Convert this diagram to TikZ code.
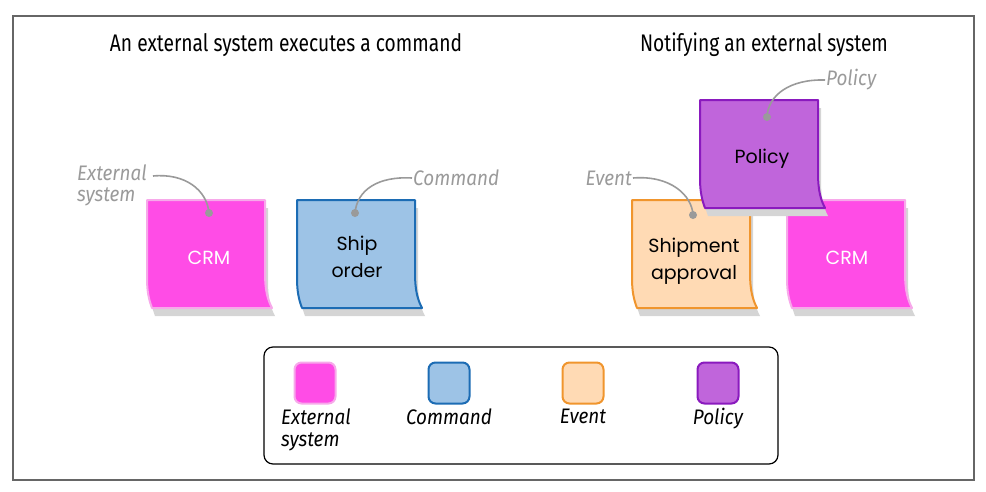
\documentclass[tikz,border=0pt]{standalone}
\usepackage{fontspec}
\setmainfont{Fira Sans}
\newfontfamily\titlefont{Fira Sans}[FakeStretch=0.8]
\newfontfamily\hintfont{Fira Sans}[FakeStretch=0.9]
\newfontfamily\notefont{Poppins}
\usepackage{tikz}
\usetikzlibrary{positioning,calc}
\definecolor{extfill}{HTML}{FF4CE6}
\definecolor{extline}{HTML}{F7A9EA}
\definecolor{cmdfill}{HTML}{9DC3E6}
\definecolor{cmdline}{HTML}{1C6CB4}
\definecolor{evtfill}{HTML}{FFDAB4}
\definecolor{evtline}{HTML}{F0952D}
\definecolor{polfill}{HTML}{C065DB}
\definecolor{polline}{HTML}{8A1ABE}
\definecolor{hintgray}{HTML}{9A9A9A}
\definecolor{shadegray}{HTML}{D5D5D5}
% outline of a sticky note, top left corner at (#1,#2)
\newcommand{\notepath}[2]{(#1,#2) -- (#1+118,#2) -- (#1+118,#2+72)
  .. controls (#1+118,#2+92) and (#1+121,#2+100) .. (#1+125,#2+108)
  -- (#1+5,#2+108) .. controls (#1+2,#2+100) and (#1,#2+92) .. (#1,#2+78) -- cycle}
% sticky note: left, top, fill, border
\newcommand{\stickynote}[4]{%
  \fill[shadegray, shift={(3,8)}] \notepath{#1}{#2};
  \filldraw[fill=#3, draw=#4, line width=2pt, line join=round] \notepath{#1}{#2};}

\begin{document}
\begin{tikzpicture}[
  x=1pt, y=-1pt,
  title/.style={font=\titlefont\fontsize{24}{28}\selectfont},
  notetext/.style={font=\notefont\fontsize{19}{27}\selectfont, align=center},
  hint/.style={font=\hintfont\itshape\fontsize{21}{21}\selectfont, text=hintgray, align=left, inner sep=1pt},
  pin/.style={circle, fill=hintgray, inner sep=0pt, minimum size=8pt},
  lead/.style={draw=hintgray, line width=1.6pt},
  swatch/.style={rectangle, draw, rounded corners=7pt, line width=2pt, minimum size=41pt},
  legtext/.style={font=\hintfont\itshape\fontsize{21}{22}\selectfont, align=left, anchor=north}
]
  \useasboundingbox (0,0) rectangle (986,491);
  \draw[black!60, line width=1.5pt] (13,16) rectangle (974,480);
  %
  \node[title] (tleft) at (286,45) {An external system executes a command};
  \node[title] (tright) at (764,45) {Notifying an external system};
  %
  % left scene
  \stickynote{147}{200}{extfill}{extline}
  \node[notetext, text=white] (crmA) at (209,258) {CRM};
  \stickynote{297}{200}{cmdfill}{cmdline}
  \node[notetext] (ship) at (357,257) {Ship\\order};
  %
  % right scene
  \stickynote{632}{200}{evtfill}{evtline}
  \node[notetext] (shipapp) at (694,261) {Shipment\\approval};
  \stickynote{787}{200}{extfill}{extline}
  \node[notetext, text=white] (crmB) at (847,258) {CRM};
  \stickynote{700}{100}{polfill}{polline}
  \node[notetext] (pol) at (762,159) {Policy};
  %
  % hints
  \node[pin] (pinA) at (209,213) {};
  \node[pin] (pinB) at (355,213) {};
  \node[pin] (pinC) at (693,215) {};
  \node[pin] (pinD) at (767,117) {};
  \node[hint, anchor=north west] (hExt) at (76,164) {External\\system};
  \node[hint, anchor=west] (hCmd) at (412,178) {Command};
  \node[hint, anchor=east] (hEvt) at (633,178) {Event};
  \node[hint, anchor=west] (hPol) at (825,80) {Policy};
  \coordinate (eExt) at (153,176);
  \draw[lead] (eExt) .. controls (185,173) and (207,190) .. (pinA.center);
  \draw[lead] (hCmd.west) .. controls (378,176) and (357,190) .. (pinB.center);
  \draw[lead] (hEvt.east) .. controls (670,175) and (692,195) .. (pinC.center);
  \draw[lead] (hPol.west) .. controls (790,79) and (768,95) .. (pinD.center);
  %
  % legend
  \draw[line width=1.2pt, rounded corners=9pt] (264,347) rectangle (778,464);
  \node[swatch, fill=extfill, draw=extline] (kExt) at (315,383) {};
  \node[swatch, fill=cmdfill, draw=cmdline] (kCmd) at (449,383) {};
  \node[swatch, fill=evtfill, draw=evtline] (kEvt) at (583,383) {};
  \node[swatch, fill=polfill, draw=polline] (kPol) at (718,383) {};
  \node[legtext] (lExt) at (316,405) {External\\system};
  \node[legtext] (lCmd) at (449,405) {Command};
  \node[legtext] (lEvt) at (583,405) {Event};
  \node[legtext] (lPol) at (718,405) {Policy};
\end{tikzpicture}
\end{document}
